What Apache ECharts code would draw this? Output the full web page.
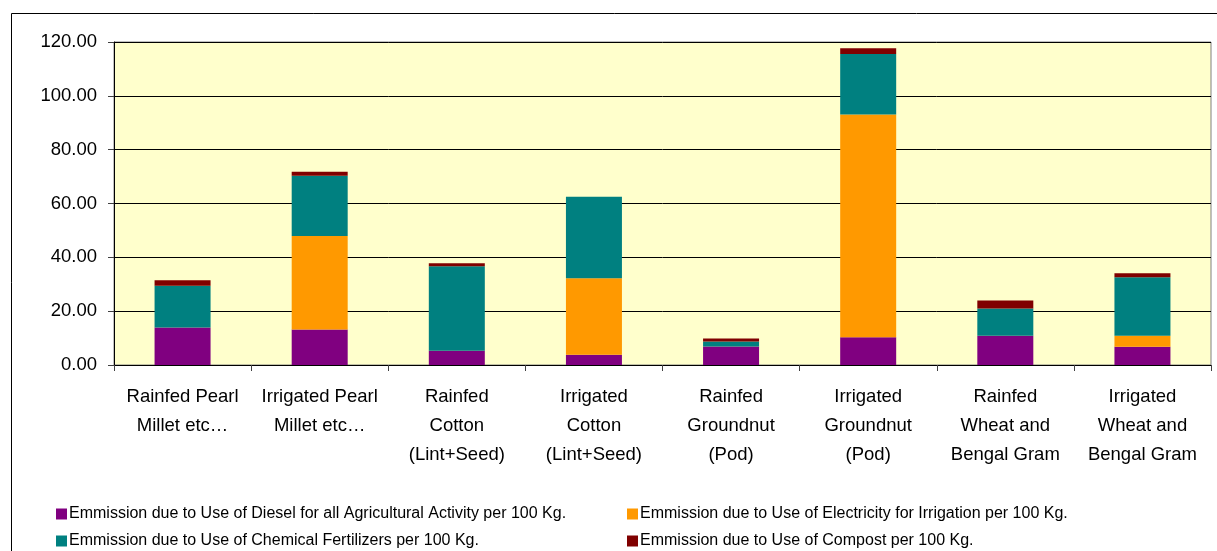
<!DOCTYPE html>
<html>
<head>
<meta charset="utf-8">
<script src="https://cdn.jsdelivr.net/npm/echarts@6/dist/echarts.min.js"></script>
<style>
  html, body { margin: 0; padding: 0; background: #fff; }
  #chart { width: 1217px; height: 551px; }
</style>
</head>
<body>
<div id="chart"></div>
<script>
// Crop systems (x-axis categories)
const categories = [
  'Rainfed Pearl\nMillet etc…',
  'Irrigated Pearl\nMillet etc…',
  'Rainfed\nCotton\n(Lint+Seed)',
  'Irrigated\nCotton\n(Lint+Seed)',
  'Rainfed\nGroundnut\n(Pod)',
  'Irrigated\nGroundnut\n(Pod)',
  'Rainfed\nWheat and\nBengal Gram',
  'Irrigated\nWheat and\nBengal Gram'
];

// Emission components per 100 Kg, stacked bottom to top
const dieselValues      = [13.9, 13.2, 5.3, 3.8, 6.9, 10.3, 10.9, 6.8];
const electricityValues = [0, 34.7, 0, 28.4, 0, 82.8, 0, 4.1];
const fertilizerValues  = [15.5, 22.4, 31.4, 30.3, 1.8, 22.4, 10.1, 21.7];
const compostValues     = [2.1, 1.5, 1.1, 0, 1.1, 2.2, 3.0, 1.5];

const seriesNames = [
  'Emmission due to Use of Diesel for all Agricultural Activity per 100 Kg.',
  'Emmission due to Use of Electricity for Irrigation per 100 Kg.',
  'Emmission due to Use of Chemical Fertilizers per 100 Kg.',
  'Emmission due to Use of Compost per 100 Kg.'
];
const seriesColors = ['#800080', '#FF9900', '#008080', '#800000'];
const seriesValues = [dieselValues, electricityValues, fertilizerValues, compostValues];

const FONT = '"Liberation Sans", Arial, sans-serif';

// Legend laid out as a 2x2 block: one legend component per entry
const legendSlots = [
  { left: 56, top: 506 },   // Diesel
  { left: 627, top: 506 },  // Electricity
  { left: 56, top: 533 },   // Fertilizers
  { left: 627, top: 533 }   // Compost
];

const chart = echarts.init(document.getElementById('chart'), null, { renderer: 'canvas' });

chart.setOption({
  animation: false,
  backgroundColor: '#fff',
  graphic: [{
    type: 'rect',
    shape: { x: 11.5, y: 13.5, width: 1300, height: 700 },
    style: { fill: 'none', stroke: '#000', lineWidth: 1 },
    silent: true,
    z: -1
  }],
  grid: {
    left: 114, top: 42, right: 6, bottom: 186,
    show: true,
    backgroundColor: '#FFFFCC',
    borderColor: '#808080',
    borderWidth: 1
  },
  legend: legendSlots.map((pos, i) => ({
    left: pos.left, top: pos.top,
    padding: 0,
    itemWidth: 11, itemHeight: 11,
    icon: 'rect',
    textStyle: { color: '#000', fontSize: 16, fontFamily: FONT, padding: [0, 0, 0, -3] },
    data: [seriesNames[i]],
    selectedMode: false
  })),
  xAxis: {
    type: 'category',
    data: categories,
    axisLine: { lineStyle: { color: '#000', width: 1 } },
    axisTick: { show: true, alignWithLabel: false, length: 6, lineStyle: { color: '#404040' } },
    axisLabel: {
      interval: 0, color: '#000', fontSize: 18.5, lineHeight: 29,
      fontFamily: FONT, margin: 17
    }
  },
  yAxis: {
    type: 'value',
    min: 0, max: 120, interval: 20,
    axisLine: { show: true, lineStyle: { color: '#000', width: 1 } },
    axisTick: { show: true, length: 6, lineStyle: { color: '#404040' } },
    axisLabel: {
      color: '#000', fontSize: 18.5, fontFamily: FONT, margin: 17,
      formatter: v => v.toFixed(2)
    },
    splitLine: { show: true, lineStyle: { color: '#000', width: 1 } }
  },
  series: seriesNames.map((name, i) => ({
    name,
    type: 'bar',
    stack: 'total',
    barWidth: 56,
    itemStyle: { color: seriesColors[i] },
    data: seriesValues[i]
  }))
});
</script>
</body>
</html>
